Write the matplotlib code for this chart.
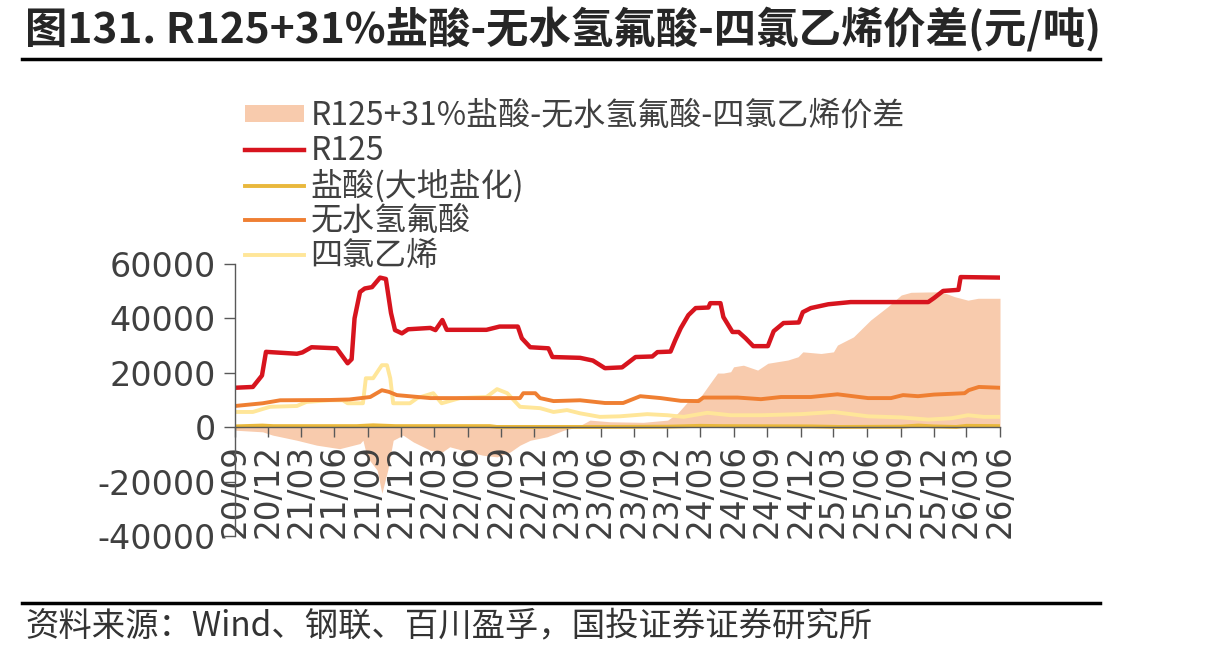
import matplotlib
matplotlib.use("Agg")
import matplotlib.pyplot as plt
import matplotlib.dates as mdates
from matplotlib.patches import Patch
from matplotlib.lines import Line2D
import pandas as pd

plt.rcParams['font.family'] = ['Noto Sans CJK SC', 'DejaVu Sans']

# ---------------- data ----------------
r125_dates = ['2020-09-01', '2020-10-20', '2020-11-14', '2020-11-25', '2021-02-18', '2021-03-05',
              '2021-03-30', '2021-06-07', '2021-07-07', '2021-07-18', '2021-07-26', '2021-08-10',
              '2021-08-23', '2021-09-12', '2021-10-04', '2021-10-20', '2021-11-03', '2021-11-14',
              '2021-12-03', '2021-12-20', '2022-02-19', '2022-03-05', '2022-03-24', '2022-04-05',
              '2022-07-23', '2022-08-28', '2022-10-17', '2022-10-28', '2022-11-20', '2023-01-09',
              '2023-01-20', '2023-04-06', '2023-05-11', '2023-06-13', '2023-07-30', '2023-09-05',
              '2023-10-21', '2023-11-04', '2023-12-10', '2023-12-23', '2024-01-07', '2024-01-28',
              '2024-02-17', '2024-03-23', '2024-03-28', '2024-04-25', '2024-05-03', '2024-05-28',
              '2024-06-14', '2024-07-03', '2024-07-24', '2024-09-02', '2024-09-18', '2024-10-15',
              '2024-11-26', '2024-12-07', '2024-12-29', '2025-02-15', '2025-04-17', '2025-11-16',
              '2025-12-02', '2025-12-27', '2026-02-07', '2026-02-13', '2026-06-01']
r125_vals = [14500, 14800, 19000, 27700, 27000, 27500,
             29400, 29000, 23500, 25000, 40000, 49700,
             51000, 51500, 55000, 54500, 42000, 35700,
             34500, 36000, 36500, 35700, 39400, 35800,
             35800, 37000, 37000, 32700, 29400, 29000,
             25800, 25500, 24500, 21700, 22000, 25800,
             26000, 27600, 27800, 32000, 36400, 41200,
             43800, 44000, 45600, 45600, 40500, 35000,
             35000, 32700, 29800, 29800, 35300, 38300,
             38500, 42300, 43800, 45200, 46000, 46000,
             47500, 50100, 50500, 55200, 55000]

hcl_dates = ['2020-09-01', '2020-11-15', '2020-12-15', '2021-08-01', '2021-09-15', '2021-11-15',
             '2022-08-01', '2022-08-20', '2023-06-01', '2023-12-01', '2024-03-01', '2024-05-01',
             '2025-01-01', '2025-03-15', '2025-09-01', '2025-10-20', '2025-12-01', '2026-02-01',
             '2026-03-01', '2026-06-01']
hcl_vals = [300, 600, 400, 400, 700, 400,
            400, 100, 100, 200, 500, 400,
            300, 100, 200, 600, 300, 100,
            500, 400]

hf_dates = ['2020-09-01', '2020-11-16', '2021-01-03', '2021-05-18', '2021-07-12', '2021-09-07',
            '2021-10-09', '2021-10-28', '2021-11-19', '2022-02-19', '2022-10-23', '2022-11-01',
            '2022-12-04', '2022-12-17', '2023-01-23', '2023-04-06', '2023-06-13', '2023-08-02',
            '2023-09-18', '2023-11-13', '2024-01-07', '2024-02-25', '2024-03-09', '2024-06-11',
            '2024-08-14', '2024-10-08', '2024-12-29', '2025-03-12', '2025-06-04', '2025-08-06',
            '2025-09-08', '2025-10-19', '2025-12-02', '2026-02-24', '2026-03-07', '2026-04-04',
            '2026-06-01']
hf_vals = [7800, 8800, 9900, 10000, 10200, 11100,
           13600, 13000, 11800, 10700, 10700, 12500,
           12500, 10700, 9600, 9900, 8900, 8900,
           11400, 10700, 9700, 9600, 10900, 10900,
           10300, 11100, 11100, 12100, 10700, 10700,
           11800, 11400, 12000, 12500, 13600, 14800,
           14500]

pce_dates = ['2020-09-01', '2020-10-20', '2020-12-06', '2021-02-18', '2021-03-16', '2021-05-18',
             '2021-06-24', '2021-07-07', '2021-08-18', '2021-08-26', '2021-09-15', '2021-10-09',
             '2021-10-23', '2021-11-01', '2021-11-09', '2021-12-25', '2022-01-14', '2022-02-27',
             '2022-03-22', '2022-05-11', '2022-07-23', '2022-08-21', '2022-09-18', '2022-10-23',
             '2022-12-17', '2023-01-23', '2023-03-01', '2023-04-06', '2023-05-30', '2023-07-24',
             '2023-10-07', '2023-12-02', '2024-01-15', '2024-03-20', '2024-05-23', '2024-08-14',
             '2024-12-02', '2025-03-01', '2025-06-04', '2025-09-03', '2025-11-16', '2026-01-19',
             '2026-03-05', '2026-04-18', '2026-06-01']
pce_vals = [5600, 5600, 7500, 7800, 9300, 9900,
            9900, 8800, 8800, 18000, 18000, 22800,
            22800, 18000, 8800, 8800, 10700, 12500,
            8800, 10700, 11100, 14000, 12500, 7500,
            7000, 5600, 6300, 5100, 3800, 4000,
            4800, 4400, 3800, 5300, 4400, 4400,
            4800, 5600, 4000, 3600, 2800, 3300,
            4400, 3800, 3800]

spread_dates = ['2020-09-01', '2020-11-16', '2020-12-13', '2021-02-18', '2021-04-13', '2021-06-15',
                '2021-08-10', '2021-08-18', '2021-08-29', '2021-09-26', '2021-10-09', '2021-10-25',
                '2021-11-09', '2021-12-06', '2022-01-03', '2022-02-19', '2022-03-24', '2022-04-13',
                '2022-05-19', '2022-07-13', '2022-08-21', '2022-09-26', '2022-10-23', '2022-11-20',
                '2023-01-06', '2023-02-20', '2023-03-28', '2023-05-03', '2023-06-27', '2023-09-26',
                '2023-12-02', '2023-12-29', '2024-01-26', '2024-03-01', '2024-03-28', '2024-04-17',
                '2024-05-03', '2024-05-23', '2024-05-31', '2024-06-27', '2024-08-05', '2024-09-02',
                '2024-10-27', '2024-11-24', '2024-12-07', '2025-01-26', '2025-03-01', '2025-03-12',
                '2025-04-25', '2025-06-11', '2025-07-28', '2025-09-03', '2025-09-30', '2025-12-22',
                '2026-01-27', '2026-03-05', '2026-04-02', '2026-06-01']
spread_vals = [-1100, -1700, -2900, -4800, -6600, -7900,
               -6000, -4800, -10900, -15800, -24300, -15800,
               -4800, -2900, -5400, -8500, -9100, -7200,
               -8500, -10300, -10900, -9100, -6600, -4800,
               -3500, -1100, 0, 2600, 2000, 1800,
               2600, 5100, 9300, 11100, 16200, 19900,
               19900, 20400, 22200, 22800, 21000, 23500,
               24700, 25900, 27700, 27100, 27700, 30200,
               33200, 39400, 44300, 48600, 49600, 49800,
               48000, 46700, 47400, 47400]

tick_dates = pd.date_range('2020-09-01', '2026-06-01', freq='3MS')
y_ticks = [-40000, -20000, 0, 20000, 40000, 60000]

labels = ['R125+31%盐酸-无水氢氟酸-四氯乙烯价差', 'R125', '盐酸(大地盐化)', '无水氢氟酸', '四氯乙烯']

# ---------------- colors ----------------
c_fill = '#F8CBAD'
c_r125 = '#D7141E'
c_hcl = '#E9B83C'
c_hf = '#EF7F32'
c_pce = '#FFE699'
c_text = '#404040'

fig = plt.figure(figsize=(12.17, 6.56), dpi=100)
ax = fig.add_axes([235 / 1217, 1 - 536 / 656, (1000 - 235) / 1217, (536 - 264) / 656])

sd = pd.to_datetime(spread_dates)
ax.fill_between(sd, 0, spread_vals, color=c_fill, linewidth=0)
ax.plot(pd.to_datetime(hcl_dates), hcl_vals, color=c_hcl, lw=2.8, solid_capstyle='round')
ax.plot(pd.to_datetime(pce_dates), pce_vals, color=c_pce, lw=2.8, solid_capstyle='round')
ax.plot(pd.to_datetime(hf_dates), hf_vals, color=c_hf, lw=2.8, solid_capstyle='round')
ax.plot(pd.to_datetime(r125_dates), r125_vals, color=c_r125, lw=3.2, solid_capstyle='round')

ax.set_xlim(pd.Timestamp('2020-09-01'), pd.Timestamp('2026-06-01'))
ax.set_ylim(-40000, 60000)
ax.set_yticks(y_ticks)
ax.set_yticklabels([str(v) for v in y_ticks])
ax.set_xticks(tick_dates)
ax.xaxis.set_major_formatter(mdates.DateFormatter('%y/%m'))

for s in ['top', 'right']:
    ax.spines[s].set_visible(False)
ax.spines['bottom'].set_position(('data', 0))
for s in ['left', 'bottom']:
    ax.spines[s].set_color('#595959')
    ax.spines[s].set_linewidth(1.0)
ax.tick_params(axis='y', direction='out', length=8, width=1, color='#595959',
               labelsize=24, labelcolor=c_text, pad=6)
ax.tick_params(axis='x', direction='out', length=7, width=1, color='#595959',
               labelsize=23.5, labelcolor=c_text, pad=5, labelrotation=90)
for lab in ax.get_yticklabels() + ax.get_xticklabels():
    lab.set_family('DejaVu Sans')
ax.set_facecolor('none')

handles = [Patch(facecolor=c_fill, edgecolor='none'),
           Line2D([], [], color=c_r125, lw=3.2),
           Line2D([], [], color=c_hcl, lw=2.8),
           Line2D([], [], color=c_hf, lw=2.8),
           Line2D([], [], color=c_pce, lw=2.8)]
leg = fig.legend(handles, labels, loc='upper left', bbox_to_anchor=(245 / 1217, 1 - 100 / 656),
                 frameon=False, fontsize=23, handlelength=1.85, handleheight=0.45,
                 handletextpad=0.2, labelspacing=0.08, borderaxespad=0, borderpad=0)
for t in leg.get_texts():
    t.set_color(c_text)

# title and lines
fig.text(25 / 1217, 1 - 29 / 656, '图131. R125+31%盐酸-无水氢氟酸-四氯乙烯价差(元/吨)',
         fontsize=30.5, fontweight='bold', color='#262626', va='center', ha='left')
fig.add_artist(Line2D([22 / 1217, 1100 / 1217], [1 - 59 / 656, 1 - 59 / 656],
                      color='black', lw=2.5, transform=fig.transFigure))
fig.add_artist(Line2D([22 / 1217, 1100 / 1217], [1 - 603 / 656, 1 - 603 / 656],
                      color='black', lw=2.5, transform=fig.transFigure))
fig.text(25 / 1217, 1 - 626 / 656, '资料来源：Wind、钢联、百川盈孚，国投证券证券研究所',
         fontsize=24, color='#333333', va='center', ha='left')

fig.savefig('out.png', dpi=100)
